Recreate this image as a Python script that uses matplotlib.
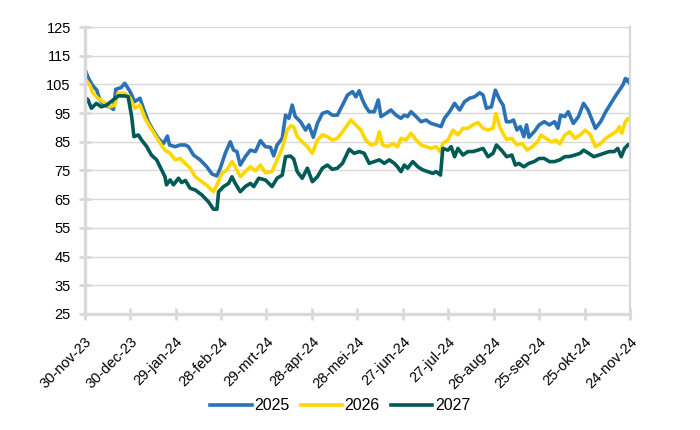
import numpy as np
import pandas as pd
import matplotlib
matplotlib.use("Agg")
import matplotlib.pyplot as plt

plt.rcParams['font.family'] = ['Liberation Sans', 'DejaVu Sans']

start = pd.Timestamp("2023-11-30")

# days after 30-nov-23
days_2025 = [0, 2, 5, 8, 10, 13, 16.5, 19, 20.5, 24, 26.5, 30, 33, 36.5, 38.7, 42, 45, 48.6, 52, 54.6,
             56, 59.7, 63, 66.3, 68.5, 71.8, 76.2, 80.6, 84, 87.3, 89.5, 92.8, 96.1, 98.3, 100.5, 102.7,
             106, 109.4, 112.7, 116, 119.3, 122.6, 124.8, 127, 130.4, 132.6, 134.8, 137, 139, 142.5,
             145.8, 148, 150.9, 153.6, 156.9, 160.2, 163.5, 166.8, 170.2, 173.5, 176.8, 179, 181.2,
             183.4, 185.6, 187.8, 191.2, 193.8, 195.6, 198.9, 202.2, 205.5, 208.8, 211, 213.2, 215.4,
             218.8, 222.1, 225.4, 228.7, 232, 235.3, 237.5, 240.9, 244.2, 247.5, 250.8, 254.1, 257.4,
             260.8, 263, 265.2, 268.5, 271.1, 274, 276.2, 278.4, 280.9, 283.1, 285.4, 287.6, 289.9,
             291.7, 293.3, 296.7, 300, 303.4, 306.8, 310.2, 312.4, 314.2, 317, 319.2, 322.6, 326,
             329.3, 332.3, 335, 337.2, 340.6, 344, 347.4, 350.8, 353, 355.3, 357, 358.5, 359.3, 360]
vals_2025 = [110.6, 107.7, 104.8, 103.0, 99.6, 97.8, 97.2, 96.3, 103.3, 103.9, 105.4, 102.5, 99.0, 100.2,
             96.7, 92.0, 89.1, 86.2, 84.4, 87.0, 83.9, 83.3, 83.9, 83.9, 83.3, 80.4, 78.7, 76.3, 73.8,
             73.1, 75.8, 81.0, 85.0, 82.1, 81.6, 76.9, 79.8, 82.1, 81.6, 85.4, 83.3, 83.1, 80.1, 83.9,
             86.2, 94.3, 93.2, 97.8, 93.8, 92.0, 89.1, 90.9, 86.6, 91.4, 94.9, 95.5, 94.3, 94.3, 97.8,
             101.3, 102.5, 100.7, 102.8, 99.6, 97.2, 95.5, 95.5, 99.6, 93.8, 94.9, 96.1, 94.3, 93.2,
             94.3, 93.8, 95.5, 93.8, 92.0, 92.6, 91.4, 90.9, 90.3, 93.2, 95.5, 98.4, 96.1, 99.0, 100.2,
             100.7, 102.1, 101.3, 96.7, 97.2, 103.0, 99.6, 97.8, 92.0, 92.0, 92.6, 89.1, 90.3, 86.8,
             90.9, 86.6, 88.5, 90.9, 92.0, 90.9, 92.0, 89.7, 94.3, 93.8, 95.5, 91.4, 93.8, 98.4, 96.1,
             92.6, 89.7, 92.0, 95.5, 98.4, 101.3, 103.0, 104.8, 107.1, 106.0, 106.8, 105.4]

days_2026 = [0, 3.3, 5.5, 8.8, 12, 16.6, 19.9, 22, 26.5, 30, 33, 36.5, 39.8, 43, 46.4, 50, 53, 56.4, 59.7,
             63, 66.3, 69.6, 73, 77.3, 81.7, 85, 87.3, 90.6, 93.9, 97.2, 99.4, 102.7, 106, 109.4, 112.7,
             116, 119.3, 123.7, 127, 130.4, 133.7, 136, 138, 140.3, 143.6, 147, 150.3, 153.6, 156.9,
             160.2, 163.5, 166.8, 170.2, 173.5, 175.7, 179, 182.3, 185.6, 189, 192.3, 194.5, 196.7, 200,
             203.3, 206.6, 208.8, 212.1, 215.4, 218.8, 222.1, 225.4, 228.7, 232, 234.7, 236.4, 239.8,
             243.1, 246.4, 249.7, 253, 256.3, 259.6, 263, 266.3, 269.6, 271.4, 274, 276, 278.5, 282,
             285.4, 288.8, 292.1, 295.5, 298.9, 301.2, 304.5, 307.9, 311.3, 313.6, 317, 320.3, 323.7,
             327.1, 330.5, 333.9, 337.2, 340.6, 344, 347.4, 350.8, 353, 354.6, 356.9, 359, 360]
vals_2026 = [107.1, 104.8, 101.9, 100.2, 99.0, 97.2, 97.8, 101.9, 101.9, 100.2, 96.7, 97.8, 93.2, 90.3,
             87.4, 84.4, 82.1, 81.0, 78.7, 79.2, 77.5, 75.8, 72.8, 71.1, 69.4, 67.6, 70.0, 74.0, 75.2,
             78.1, 76.3, 72.8, 74.6, 76.3, 74.9, 76.9, 74.2, 74.6, 78.7, 82.7, 89.1, 90.6, 90.3, 86.8,
             85.0, 83.3, 81.0, 85.6, 87.4, 86.8, 85.6, 86.2, 88.5, 90.9, 92.6, 90.9, 89.1, 85.6, 83.9,
             84.4, 88.5, 83.9, 83.3, 84.4, 83.3, 86.2, 85.6, 88.0, 85.6, 83.9, 83.3, 82.7, 83.3, 81.6,
             84.4, 85.6, 89.1, 87.4, 89.7, 89.7, 90.9, 91.7, 89.7, 89.1, 89.7, 94.9, 90.3, 88.0, 85.8,
             86.2, 83.9, 84.4, 82.1, 83.3, 85.0, 87.3, 86.2, 85.0, 85.6, 84.2, 87.4, 88.5, 86.2, 87.4,
             89.1, 87.4, 83.3, 84.4, 86.2, 87.4, 88.5, 90.3, 88.0, 92.0, 93.2, 92.6]

days_2027 = [0, 1, 2.2, 4.4, 7.7, 11, 14.4, 18.8, 22, 26.5, 28.7, 31, 32.5, 35.4, 37.6, 41, 44, 47.5,
             50.8, 53, 54, 56.4, 58.6, 61.9, 64, 66.5, 69.6, 73, 77.3, 81.7, 85, 87.3, 88.4, 91.7, 95,
             97.2, 99.4, 102.7, 106, 109.4, 111.6, 114.9, 119.3, 123.7, 127, 130.4, 132.6, 135.9, 138,
             140.3, 143.6, 147, 150.3, 153.6, 156.9, 160.2, 163.5, 166.8, 170.2, 174.6, 177.9, 181.2,
             184.5, 187.8, 191.2, 194.5, 197.8, 201.1, 204.4, 206.5, 208.8, 211, 213.2, 216.6, 219.9,
             223.2, 226.5, 229.8, 232, 234.9, 236.4, 239.8, 241.9, 244.2, 246.4, 249.7, 253, 256.3,
             259.6, 263, 266.3, 269.6, 271.8, 275.1, 276.8, 278.6, 282, 284.3, 286.5, 289.9, 293.3,
             296.7, 300, 303.4, 306.8, 310.2, 313.6, 317, 320.3, 323.7, 327.1, 329.3, 332.7, 336.1,
             339.5, 342.9, 346.3, 349.6, 351.9, 354.2, 356.4, 359, 360]
vals_2027 = [97.8, 100.2, 99.6, 96.7, 98.4, 97.2, 97.8, 99.6, 101.0, 101.0, 100.7, 93.8, 86.8, 87.4, 85.6,
             83.3, 80.4, 78.7, 75.2, 72.8, 70.0, 71.7, 70.0, 72.3, 70.8, 71.5, 68.8, 68.2, 66.5, 64.1,
             61.5, 61.5, 67.6, 69.4, 70.5, 72.8, 70.5, 67.6, 69.4, 70.5, 69.4, 72.3, 71.7, 69.4, 72.3,
             73.4, 79.8, 80.0, 79.0, 74.6, 72.3, 75.8, 71.1, 72.8, 75.8, 76.9, 75.4, 75.8, 77.5, 82.4,
             81.0, 81.6, 81.0, 77.5, 78.1, 78.7, 77.5, 78.7, 77.5, 76.3, 74.6, 76.9, 75.8, 78.1, 76.3,
             75.2, 74.6, 74.0, 74.6, 73.4, 82.7, 82.1, 83.3, 79.8, 82.7, 80.4, 81.6, 81.6, 82.1, 82.7,
             79.8, 81.0, 83.9, 82.1, 81.0, 79.8, 80.4, 76.9, 77.5, 76.3, 77.5, 78.1, 79.2, 79.2, 78.1,
             78.1, 78.7, 79.8, 79.9, 80.4, 81.0, 82.1, 81.0, 79.8, 80.4, 81.0, 81.6, 81.6, 82.7, 79.8,
             82.7, 84.1, 83.9]

series_names = ["2025", "2026", "2027"]
series_colors = ["#2A72B5", "#FFD700", "#005A55"]

tick_labels = ["30-nov-23", "30-dec-23", "29-jan-24", "28-feb-24", "29-mrt-24", "28-apr-24",
               "28-mei-24", "27-jun-24", "27-jul-24", "26-aug-24", "25-sep-24", "25-okt-24",
               "24-nov-24"]
y_ticks = list(range(25, 126, 10))

grey = "#D9D9D9"

fig, ax = plt.subplots(figsize=(7, 4.3), dpi=100)
fig.subplots_adjust(left=0.121, right=0.9, top=0.937, bottom=0.27)

for days, vals, name, col in zip([days_2025, days_2026, days_2027],
                                 [vals_2025, vals_2026, vals_2027],
                                 series_names, series_colors):
    dates = start + pd.to_timedelta(np.array(days), unit="D")
    ax.plot(dates, vals, color=col, lw=2.6, label=name, solid_joinstyle="round")

tick_dates = [start + pd.Timedelta(days=30 * i) for i in range(len(tick_labels))]
ax.set_xticks(tick_dates)
ax.set_xticklabels(tick_labels, rotation=45, ha="right", rotation_mode="anchor")
ax.set_xlim(tick_dates[0], tick_dates[-1])

ax.set_ylim(25, 125)
ax.set_yticks(y_ticks)
ax.yaxis.grid(True, color=grey, lw=1)
ax.set_axisbelow(True)

ax.spines["top"].set_visible(False)
for side in ["left", "bottom"]:
    ax.spines[side].set_color(grey)
    ax.spines[side].set_linewidth(2.4)
ax.spines["right"].set_color(grey)
ax.spines["right"].set_linewidth(1.6)

ax.tick_params(axis="both", direction="inout", length=8, width=2, color=grey,
               labelsize=10.5, labelcolor="black")
ax.tick_params(axis="y", pad=6)
ax.tick_params(axis="x", pad=11)

fig.legend(loc="lower center", bbox_to_anchor=(0.486, 0.005), ncol=3, frameon=False,
           fontsize=11.5, handlelength=2.6, handletextpad=0.15, columnspacing=0.7)

fig.savefig("out.png", dpi=100)
